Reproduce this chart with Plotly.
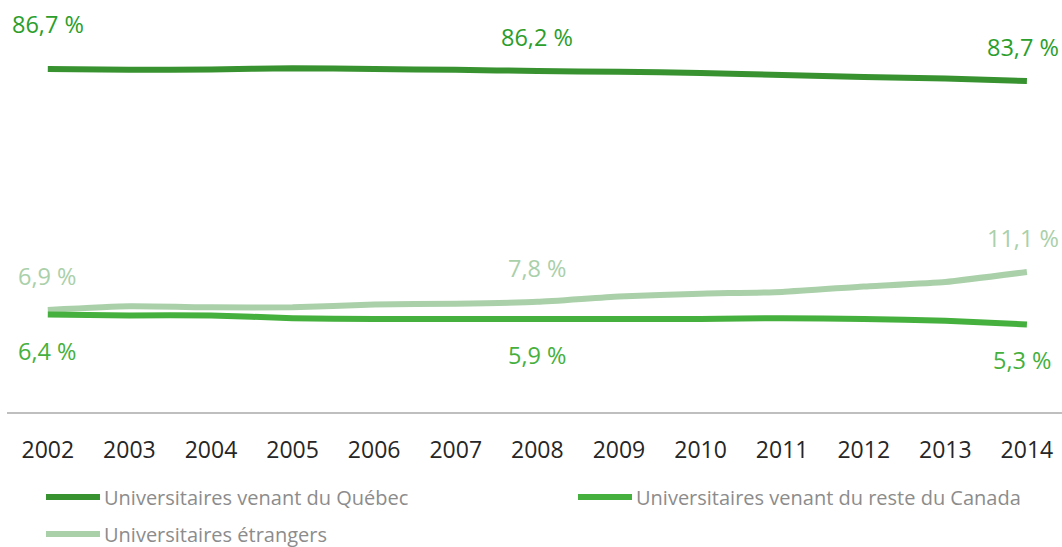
import plotly.graph_objs as go

years = list(range(2002, 2015))
quebec = [86.7, 86.5, 86.6, 86.9, 86.7, 86.5, 86.2, 86.0, 85.7, 85.2, 84.7, 84.3, 83.7]
reste_canada = [6.4, 6.3, 6.3, 6.0, 5.9, 5.9, 5.9, 5.9, 5.9, 6.0, 5.9, 5.7, 5.3]
etrangers = [6.9, 7.3, 7.2, 7.2, 7.5, 7.6, 7.8, 8.4, 8.7, 8.9, 9.5, 10.0, 11.1]

names = ["Universitaires venant du Québec",
         "Universitaires venant du reste du Canada",
         "Universitaires étrangers"]
labelled_years = [2002, 2008, 2014]

c_quebec = "#37922f"
c_quebec_txt = "#2b9e2b"
c_reste = "#45b03d"
c_etr = "#aad0aa"

W, H = 1062, 547
L, R, T, B = 7, 0, 20, 135
PW, PH = W - L - R, H - T - B
FONT = "Open Sans"


def px(x, y):
    # pixel position -> paper coordinates
    return (x - L) / PW, 1 - (y - T) / PH


fig = go.Figure()
fig.add_trace(go.Scatter(x=years, y=etrangers, name=names[2], mode="lines",
                         line=dict(color=c_etr, width=6, shape="spline", smoothing=0.5),
                         cliponaxis=False, yaxis="y"))
fig.add_trace(go.Scatter(x=years, y=reste_canada, name=names[1], mode="lines",
                         line=dict(color=c_reste, width=6, shape="spline", smoothing=0.5),
                         cliponaxis=False, yaxis="y"))
fig.add_trace(go.Scatter(x=years, y=quebec, name=names[0], mode="lines",
                         line=dict(color=c_quebec, width=6, shape="spline", smoothing=0.5),
                         cliponaxis=False, yaxis="y2"))

# data labels
def fmt(v):
    return f"{v:.1f}".replace(".", ",") + " %"

for yr in labelled_years:
    i = years.index(yr)
    xs = -4 if yr == years[-1] else 0
    fig.add_annotation(x=yr, y=quebec[i], yref="y2", text=fmt(quebec[i]),
                       showarrow=False, yshift=45 if i == 0 else 34, xshift=xs,
                       font=dict(family=FONT, size=23.5, color=c_quebec_txt))
    fig.add_annotation(x=yr, y=etrangers[i], yref="y", text=fmt(etrangers[i]),
                       showarrow=False, yshift=34, xshift=xs,
                       font=dict(family=FONT, size=23.5, color=c_etr))
    fig.add_annotation(x=yr, y=reste_canada[i], yref="y", text=fmt(reste_canada[i]),
                       showarrow=False, yshift=-36, xshift=xs,
                       font=dict(family=FONT, size=23.5, color=c_reste))

# legend drawn by hand to match the swatch length and row spacing
legend_items = [(names[0], c_quebec, 46, 497), (names[1], c_reste, 578, 497),
                (names[2], c_etr, 46, 534)]
for name, col, lx, ly in legend_items:
    x0, y0 = px(lx, ly)
    x1, _ = px(lx + 54, ly)
    fig.add_shape(type="line", xref="paper", yref="paper", x0=x0, x1=x1, y0=y0, y1=y0,
                  line=dict(color=col, width=6))
    tx, _ = px(lx + 57, ly)
    fig.add_annotation(xref="paper", yref="paper", x=tx, y=y0, text=name,
                       xanchor="left", yanchor="middle", showarrow=False, borderpad=0,
                       font=dict(family=FONT, size=20, color="#8c8c8c"))

fig.update_layout(
    width=W, height=H,
    margin=dict(l=L, r=R, t=T, b=B),
    paper_bgcolor="white", plot_bgcolor="white",
    showlegend=False,
    font=dict(family=FONT),
    xaxis=dict(range=[2001.5, 2014.43], tickmode="array", tickvals=years,
               ticktext=[str(y) for y in years], showgrid=False, zeroline=False,
               showline=True, linecolor="#bfbfbf", linewidth=1.5, ticks="",
               ticklabelstandoff=17,
               tickfont=dict(family=FONT, size=23, color="#262626")),
    yaxis=dict(range=[-4.37, 38.94], visible=False, showgrid=False, zeroline=False),
    yaxis2=dict(range=[0.95, 98.95], visible=False, overlaying="y", showgrid=False,
                zeroline=False),
)

fig.write_html("out.html", config={"displayModeBar": False},
               post_script="document.body.style.margin='0px';")
